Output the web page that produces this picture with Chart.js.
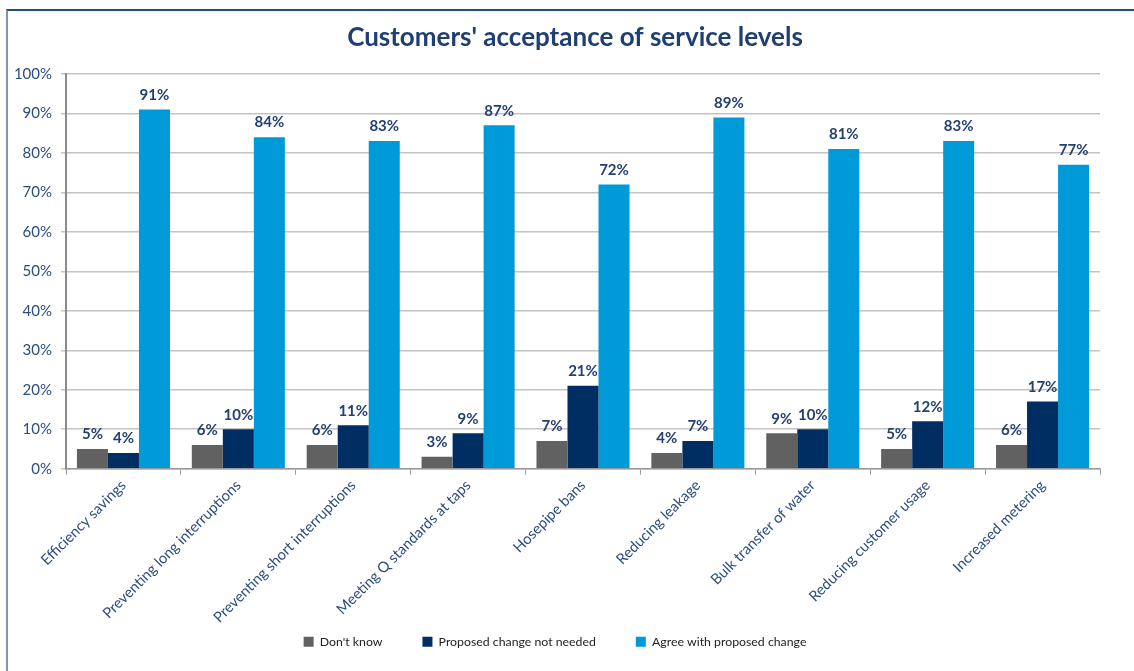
<!DOCTYPE html>
<html>
<head>
<meta charset="utf-8">
<title>Customers' acceptance of service levels</title>
<script src="https://cdn.jsdelivr.net/npm/chart.js@4/dist/chart.umd.min.js"></script>
<style>
  html, body { margin: 0; padding: 0; background: #fff; }
  .wrap { position: relative; width: 1134px; height: 671px; overflow: hidden; }
  .frame {
    position: absolute; left: 6px; top: 9px; width: 1200px; height: 700px;
    border-top: 2px solid #1f4e79; border-left: 2px solid #7f95b5;
  }
  canvas { position: absolute; left: 0; top: 0; }
</style>
</head>
<body>
<div class="wrap">
  <div class="frame"></div>
  <canvas id="chart" width="1134" height="671"></canvas>
</div>
<script>
const categories = [
  'Efficiency savings',
  'Preventing long interruptions',
  'Preventing short interruptions',
  'Meeting Q standards at taps',
  'Hosepipe bans',
  'Reducing leakage',
  'Bulk transfer of water',
  'Reducing customer usage',
  'Increased metering'
];
const dontKnow = [5, 6, 6, 3, 7, 4, 9, 5, 6];
const notNeeded = [4, 10, 11, 9, 21, 7, 10, 12, 17];
const agree = [91, 84, 83, 87, 72, 89, 81, 83, 77];
const yTicks = [0, 10, 20, 30, 40, 50, 60, 70, 80, 90, 100];

const TITLE = "Customers' acceptance of service levels";
const FONT = 'Lato, "Open Sans", sans-serif';
const LABEL_BLUE = '#243f73';
const TICK_BLUE = '#2b4c80';

// writes the percentage above every bar
const barValues = {
  id: 'barValues',
  afterDatasetsDraw(chart) {
    const ctx = chart.ctx;
    ctx.save();
    ctx.font = 'bold 15px ' + FONT;
    ctx.fillStyle = LABEL_BLUE;
    ctx.textAlign = 'center';
    ctx.textBaseline = 'bottom';
    chart.data.datasets.forEach((ds, i) => {
      chart.getDatasetMeta(i).data.forEach((bar, j) => {
        ctx.fillText(ds.data[j] + '%', bar.x, bar.y - 7);
      });
    });
    ctx.restore();
  }
};

// the title sits centred on the whole framed box, not just the plot
const boxTitle = {
  id: 'boxTitle',
  afterDraw(chart) {
    const ctx = chart.ctx;
    ctx.save();
    ctx.font = 'bold 26px ' + FONT;
    ctx.fillStyle = '#1f3f74';
    ctx.textAlign = 'center';
    ctx.textBaseline = 'middle';
    ctx.fillText(TITLE, 575, 38);
    ctx.restore();
  }
};

// let the rotated category names run down past the axis box
const longLabels = {
  id: 'longLabels',
  afterLayout(chart) {
    chart.scales.x.bottom = chart.height;
  }
};

new Chart(document.getElementById('chart'), {
  type: 'bar',
  data: {
    labels: categories,
    datasets: [
      { label: "Don't know", data: dontKnow, backgroundColor: '#616161' },
      { label: 'Proposed change not needed', data: notNeeded, backgroundColor: '#002d62' },
      { label: 'Agree with proposed change', data: agree, backgroundColor: '#009ad9' }
    ]
  },
  options: {
    responsive: false,
    animation: false,
    layout: { padding: { left: 10, right: 34, top: 74, bottom: 13 } },
    datasets: {
      bar: { categoryPercentage: 0.81, barPercentage: 1.0 }
    },
    scales: {
      x: {
        afterFit(axis) { axis.height = 127; },
        grid: { drawOnChartArea: false, drawTicks: true, tickLength: 6, color: '#9a9a9a' },
        border: { color: '#9a9a9a', width: 1.5 },
        ticks: {
          minRotation: 45, maxRotation: 45, autoSkip: false,
          color: TICK_BLUE, font: { family: FONT, size: 14.7 }, padding: 2
        }
      },
      y: {
        min: 0, max: 100,
        afterBuildTicks(axis) { axis.ticks = yTicks.map(v => ({ value: v })); },
        afterFit(axis) { axis.width = 56; },
        grid: { color: '#c4c4c4', lineWidth: 1.5, tickLength: 5 },
        border: { color: '#8a8a8a', width: 2 },
        ticks: {
          color: TICK_BLUE, font: { family: FONT, size: 15 }, padding: 9,
          callback: v => v + '%'
        }
      }
    },
    plugins: {
      title: { display: false },
      legend: {
        position: 'bottom',
        labels: {
          boxWidth: 10, boxHeight: 10, padding: 40,
          color: '#222', font: { family: FONT, size: 12.3 }
        }
      },
      tooltip: { enabled: false }
    }
  },
  plugins: [barValues, boxTitle, longLabels]
});
</script>
</body>
</html>
